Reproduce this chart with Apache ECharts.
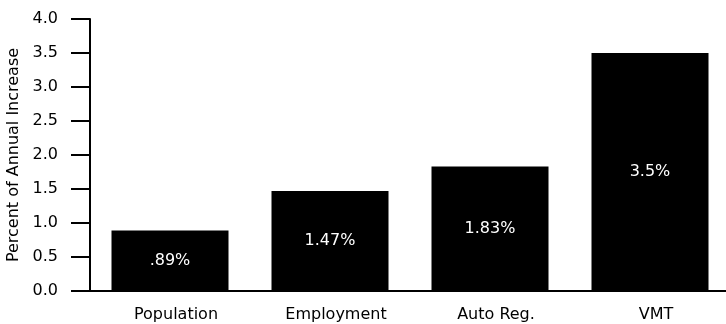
<!DOCTYPE html>
<html>
<head>
<meta charset="utf-8">
<script src="https://cdn.jsdelivr.net/npm/echarts@6/dist/echarts.min.js"></script>
<style>
html,body{margin:0;padding:0;background:#fff;}
#chart{width:726px;height:324px;}
</style>
</head>
<body>
<div id="chart"></div>
<script>
// data
var categories = ['Population', 'Employment', 'Auto Reg.', 'VMT'];
var increase = [0.89, 1.47, 1.83, 3.5];
var barLabels = ['.89%', '1.47%', '1.83%', '3.5%'];
var yTicks = { min: 0, max: 4, step: 0.5 };

var font = 'DejaVu Sans, Liberation Sans, Arial, sans-serif';

var myChart = echarts.init(document.getElementById('chart'));
myChart.setOption({
  animation: false,
  grid: { left: 90, right: -4, top: 19, bottom: 33, outerBoundsMode: 'none' },
  xAxis: {
    type: 'category',
    data: categories,
    axisLine: { lineStyle: { color: '#000', width: 2 } },
    axisTick: { alignWithLabel: true, length: 6, lineStyle: { color: '#000', width: 2 } },
    axisLabel: { color: '#000', fontSize: 16, fontFamily: font, margin: 16, padding: [0, 0, 0, 12] }
  },
  yAxis: {
    type: 'value',
    min: yTicks.min,
    max: yTicks.max,
    interval: yTicks.step,
    name: 'Percent of Annual Increase',
    nameLocation: 'middle',
    nameGap: 59,
    nameTextStyle: { color: '#000', fontSize: 16, fontFamily: font },
    axisLine: { show: true, lineStyle: { color: '#000', width: 2 } },
    axisTick: { show: true, length: 19, lineStyle: { color: '#000', width: 2 } },
    splitLine: { show: false },
    axisLabel: {
      color: '#000', fontSize: 16, fontFamily: font, margin: 32,
      formatter: function (v) { return v.toFixed(1); }
    }
  },
  series: [{
    type: 'bar',
    data: increase,
    barWidth: 117,
    itemStyle: { color: '#000' },
    label: {
      show: true,
      position: 'inside',
      color: '#fff',
      fontSize: 16,
      fontFamily: font,
      formatter: function (p) { return barLabels[p.dataIndex]; }
    }
  }]
});
</script>
</body>
</html>
